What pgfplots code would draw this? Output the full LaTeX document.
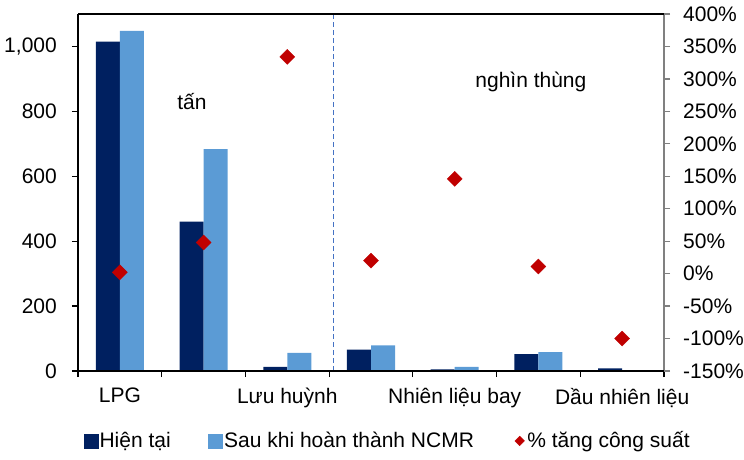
\documentclass[border=0pt]{standalone}
\usepackage{fontspec}
\setmainfont{Liberation Sans}
\usepackage{pgfplots}
\pgfplotsset{compat=1.18}
\definecolor{navy}{HTML}{002060}
\definecolor{lblue}{HTML}{5B9BD5}
\definecolor{dred}{HTML}{C00000}
\definecolor{axgrey}{HTML}{808080}
\definecolor{dashblue}{HTML}{4472C4}

\begin{document}
\fontsize{21}{25}\selectfont%
\begin{tikzpicture}
\useasboundingbox (-78pt,-88pt) rectangle (666pt,371pt);
% left axis: volumes
\begin{axis}[
  at={(0,0)}, anchor=south west,
  scale only axis, width=586pt, height=357pt,
  xmin=0.5, xmax=7.5, ymin=0, ymax=1100,
  ybar=0pt, bar width=0.287,
  axis line style={draw=none},
  /pgf/number format/assume math mode=true,
  ytick={0,200,...,1000},
  yticklabel style={xshift=-8pt},
  ytick pos=left, xtick pos=bottom,
  tick align=outside, major tick length=6pt,
  tick style={black, line width=1.2pt},
  xtick={0.5,1.5,...,7.5}, xticklabels={},
  extra x ticks={1,3,5,7},
  extra x tick labels={LPG,Lưu huỳnh,Nhiên liệu bay,Dầu nhiên liệu},
  extra x tick style={major tick length=0pt, tick label style={yshift=-10pt}},
  clip=false,
]
\addplot[fill=navy, draw=none] coordinates {(1,1015) (2,460) (3,13) (4,66) (5,5) (6,52) (7,8)};
\addplot[fill=lblue, draw=none] coordinates {(1,1048) (2,684) (3,56) (4,79) (5,13) (6,58) (7,0)};
\draw[dashblue, line width=1pt, dash pattern=on 5pt off 3pt] (axis cs:3.55,0) -- (axis cs:3.55,1100);
\node at (axis cs:1.86,830) {tấn};
\node at (axis cs:5.91,892) {nghìn thùng};
\end{axis}
% right axis: percentage change
\begin{axis}[
  at={(0,0)}, anchor=south west,
  scale only axis, width=586pt, height=357pt,
  xmin=0.5, xmax=7.5, ymin=-150, ymax=400,
  axis x line=none, axis y line*=right,
  y axis line style={axgrey, line width=2pt, -},
  /pgf/number format/assume math mode=true,
  ytick={-150,-100,...,400},
  yticklabel={\pgfmathprintnumber{\tick}\%},
  yticklabel style={xshift=6pt},
  tick align=outside, major tick length=6pt,
  ytick style={axgrey, line width=1.2pt},
  legend columns=3,
  legend cell align=left,
  legend style={draw=none, at={(0.528,-0.196)}, anchor=center,
    nodes={inner sep=1.5pt},
    /tikz/every even column/.append style={column sep=36pt}},
  clip=false,
]
\addlegendimage{legend image code/.code={\fill[navy] (0pt,-7pt) rectangle (14pt,7pt);}}
\addlegendimage{legend image code/.code={\fill[lblue] (0pt,-7pt) rectangle (14pt,7pt);}}
\addplot[only marks, mark=square*, mark size=5.3pt,
  mark options={rotate=45, fill=dred, draw=dred},
  legend image code/.code={\path (0pt,0pt) (14pt,0pt);
    \draw[mark=square*, mark size=3.4pt, mark options={rotate=45, fill=dred, draw=dred}] plot coordinates {(8pt,0pt)};}]
  coordinates {(1,2) (2,48) (3,334) (4,20) (5,146) (6,11) (7,-100)};
\legend{Hiện tại, Sau khi hoàn thành NCMR, \% tăng công suất}
\end{axis}
\draw[black, line width=2pt] (0,357pt) -- (0,0) -- (586pt,0);
\draw[black, line width=2pt] (0,357pt) -- (586pt,357pt);
\end{tikzpicture}
\end{document}
